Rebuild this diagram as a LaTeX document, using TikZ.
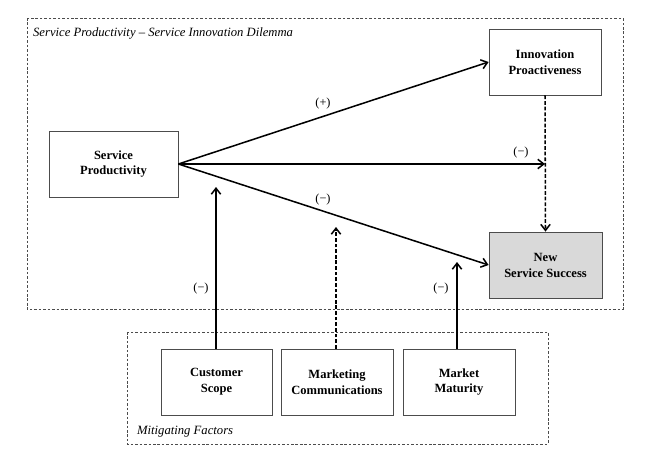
\documentclass[tikz,border=0pt]{standalone}
\usepackage{fontspec}
\setmainfont{Liberation Serif}
\usetikzlibrary{arrows.meta, positioning}
\tikzset{
    construct/.style={draw=black!70, line width=0.7pt, align=center,
        font=\fontsize{10.7}{13.6}\selectfont\bfseries, inner sep=0pt,
        minimum width=3.36cm, minimum height=1.98cm},
    outcome/.style={construct, fill=black!15},
    frame/.style={draw=black!70, line width=0.5pt, dash pattern=on 2.2pt off 1.6pt},
    effect/.style={-{Straight Barb[length=1.8mm, width=2.8mm]}, line width=1.3pt},
    moderate/.style={effect, dash pattern=on 3.2pt off 1.6pt},
    sign/.style={font=\fontsize{10.5}{12}\selectfont},
    caption/.style={font=\fontsize{10.8}{12}\selectfont\itshape, anchor=west}
}

\begin{document}
\begin{tikzpicture}[x=0.03cm, y=-0.03cm]
    \useasboundingbox (0,0) rectangle (648,466);
    % frames
    \draw[frame] (27,18) rectangle (623,309);
    \draw[frame] (127,332) rectangle (548,444);
    \node[caption] (dilemma) at (29,33) {Service Productivity -- Service Innovation Dilemma};
    \node[caption] (mitigating) at (133,432) {Mitigating Factors};
    % constructs
    \node[construct, minimum width=3.87cm] (sp) at (113.5,164) {Service\\Productivity};
    \node[construct] (ip) at (545,62) {Innovation\\Proactiveness};
    \node[outcome, minimum width=3.39cm] (nss) at (545.5,265) {New\\Service Success};
    \node[construct, minimum width=3.33cm] (cs) at (216.5,382) {Customer\\Scope};
    \node[construct] (mc) at (337,382) {Marketing\\Communications};
    \node[construct] (mm) at (459,382) {Market\\Maturity};
    % end points of the moderating arrows
    \coordinate (join) at (ip.south |- sp.east);
    \coordinate (cstip) at (216,187);
    \coordinate (mctip) at (336,227);
    \coordinate (mmtip) at (457,262);
    % effects
    \draw[effect] (sp.east) -- (ip.west);
    \draw[effect] (sp.east) -- (join);
    \draw[effect] (sp.east) -- (nss.west);
    \draw[moderate] (ip.south) -- (nss.north);
    \draw[effect] (cs.north -| cstip) -- (cstip);
    \draw[moderate] (mc.north -| mctip) -- (mctip);
    \draw[effect] (mm.north -| mmtip) -- (mmtip);
    % signs
    \node[sign] (plus) at (323,104) {(+)};
    \node[sign] (minusa) at (521,153) {(−)};
    \node[sign] (minusb) at (323,200) {(−)};
    \node[sign] (minusc) at (201,289) {(−)};
    \node[sign] (minusd) at (441,289) {(−)};
\end{tikzpicture}
\end{document}
